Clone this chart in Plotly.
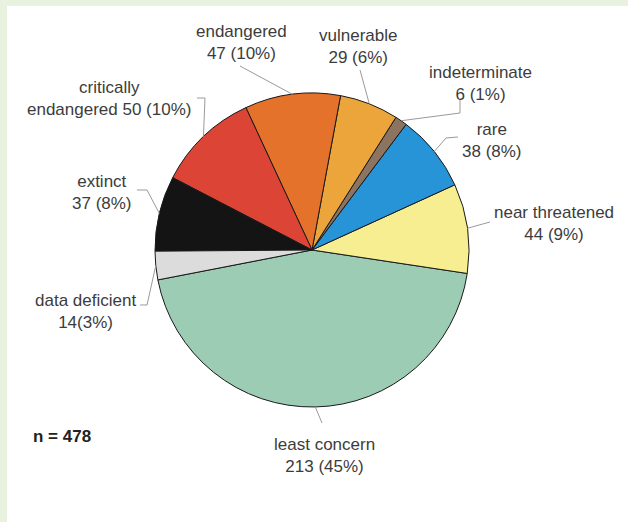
import numpy as np
import plotly.graph_objects as go

# ---- data ----
categories = ["least concern", "near threatened", "rare", "indeterminate", "vulnerable",
              "endangered", "critically endangered", "extinct", "data deficient"]
counts = [213, 44, 38, 6, 29, 47, 50, 37, 14]
label_texts = ["least concern<br>213 (45%)", "near threatened<br>44 (9%)", "rare<br>38 (8%)",
               "indeterminate<br>6 (1%)", "vulnerable<br>29 (6%)", "endangered<br>47 (10%)",
               "critically<br>endangered 50 (10%)", "extinct<br>37 (8%)", "data deficient<br>14(3%)"]
colors = ["#9ccdb4", "#f6ee90", "#2794d8", "#8d7460", "#eba53a",
          "#e4722a", "#dc4436", "#141414", "#dcdcdc"]

# ---- layout constants (pixels) ----
W, H = 628, 522
CX, CY, R = 312, 250, 157
ROT = 98.6
# label centres and leader-line waypoints (pixels), per category
label_pos = [(324, 455), (554, 223), (492, 140), (480, 83), (358, 47),
             (241, 42), (109, 98), (102, 192), (85, 311)]
leader_pts = [[(322, 423)], [(490, 222)], [(458, 137), (446, 138)], [(460, 100), (460, 113)],
              [(360, 70)], [(240, 66)], [(197, 98), (205, 98)], [(137, 190), (147, 190)],
              [(140, 305), (147, 305)]]

def px(x):
    return x / W

def py(y):
    return 1 - y / H

total = sum(counts)
vals = np.array(counts, dtype=float)
deg = vals / total * 360.0
cum_before = np.concatenate([[0], np.cumsum(deg)[:-1]])
mid = ROT + deg[0] - (cum_before + deg / 2)  # clockwise-from-north, counterclockwise direction

fig = go.Figure()
fig.add_trace(go.Pie(
    labels=categories, values=counts, sort=False, direction="counterclockwise",
    rotation=ROT, textinfo="none", hoverinfo="label+value+percent",
    marker=dict(colors=colors, line=dict(color="#1a1a1a", width=1)),
    domain=dict(x=[px(CX - R), px(CX + R)], y=[py(CY + R), py(CY - R)]),
    showlegend=False,
))

shapes = [dict(type="rect", xref="paper", yref="paper", x0=px(7), x1=1, y0=0, y1=py(6),
               fillcolor="white", line=dict(width=0), layer="below")]
annotations = []
font = dict(family="Liberation Sans, Arial, sans-serif", size=17, color="#3c3c3c")
for i, txt in enumerate(label_texts):
    lx, ly = label_pos[i]
    annotations.append(dict(x=px(lx), y=py(ly), xref="paper", yref="paper", text=txt,
                            showarrow=False, xanchor="center", yanchor="middle", font=font))
    a = np.deg2rad(mid[i])
    ex, ey = CX + R * np.sin(a), CY - R * np.cos(a)
    pts = leader_pts[i] + [(ex, ey)]
    path = "M " + " L ".join(f"{px(x):.5f},{py(y):.5f}" for x, y in pts)
    shapes.append(dict(type="path", xref="paper", yref="paper", path=path,
                       line=dict(color="#9a9a9a", width=1)))

annotations.append(dict(x=px(62), y=py(436), xref="paper", yref="paper",
                        text=f"<b>n = {total}</b>", showarrow=False,
                        xanchor="center", yanchor="middle",
                        font=dict(family="Liberation Sans, Arial, sans-serif", size=17, color="#222222")))

fig.update_layout(width=W, height=H, margin=dict(l=0, r=0, t=0, b=0),
                  paper_bgcolor="#e9f1df", shapes=shapes, annotations=annotations)
fig.write_html("out.html")
